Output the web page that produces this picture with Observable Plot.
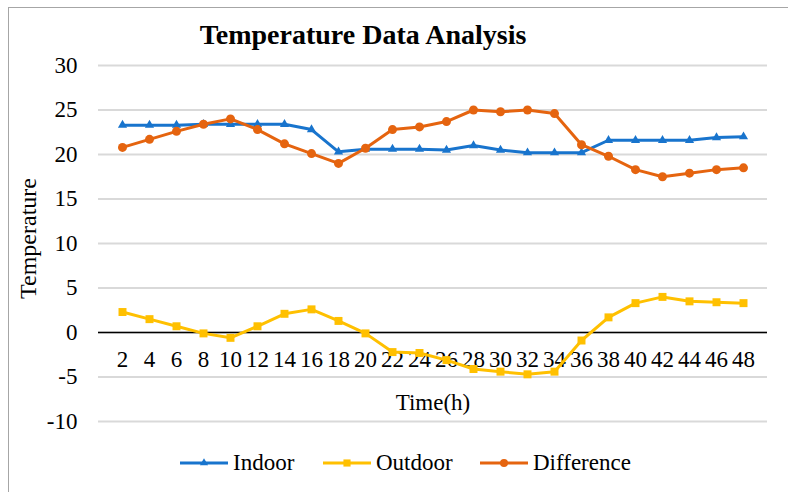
<!DOCTYPE html>
<html><head><meta charset="utf-8">
<script src="https://cdn.jsdelivr.net/npm/d3@7"></script>
<script src="https://cdn.jsdelivr.net/npm/@observablehq/plot@0.6"></script>
<style>
body{margin:0;background:#fff;overflow:hidden}
#wrap{position:relative;width:788px;height:492px;overflow:hidden;font-family:"Liberation Serif","Times New Roman",serif}
#border{position:absolute;left:8px;top:7px;width:900px;height:600px;border:1px solid #a6a6a6}
#chart{position:absolute;left:0;top:0}
#legend{position:absolute;top:448px;left:0;width:788px;height:30px}
.item{position:absolute;top:0;height:30px;display:flex;align-items:center;font-size:23px;color:#000}
.item svg{margin-right:5px}
</style></head><body>
<div id="wrap"><div id="border"></div><div id="chart"></div><div id="legend"></div></div>
<script>
const hours = [2,4,6,8,10,12,14,16,18,20,22,24,26,28,30,32,34,36,38,40,42,44,46,48];
const indoor = [23.3,23.3,23.3,23.4,23.4,23.4,23.4,22.8,20.3,20.6,20.6,20.6,20.5,21.0,20.5,20.2,20.2,20.2,21.6,21.6,21.6,21.6,21.9,22.0];
const outdoor = [2.3,1.5,0.7,-0.1,-0.6,0.7,2.1,2.6,1.3,-0.1,-2.2,-2.3,-3.1,-4.1,-4.4,-4.7,-4.4,-0.9,1.7,3.3,4.0,3.5,3.4,3.3];
const difference = [20.8,21.7,22.6,23.4,24.0,22.8,21.2,20.1,19.0,20.7,22.8,23.1,23.7,25.0,24.8,25.0,24.6,21.1,19.8,18.3,17.5,17.9,18.3,18.5];
const seriesNames = ["Indoor","Outdoor","Difference"];
const seriesColors = ["#1874CD","#FFC000","#E5640F"];
const seriesSymbols = ["triangle","square","circle"];
const seriesR = [3.4,4.5,4.5];
const yTicks = [-10,-5,0,5,10,15,20,25,30];
const titleText = "Temperature Data Analysis";
const xLabel = "Time(h)";
const yLabel = "Temperature";
const FONT = "Liberation Serif";

const seriesValues = [indoor, outdoor, difference];
const rows = [];
seriesNames.forEach((name, s) => hours.forEach((h, i) => rows.push({series: name, h, v: seriesValues[s][i]})));

const lineMarks = [];
seriesNames.forEach((name, s) => {
  const data = rows.filter(d => d.series === name);
  lineMarks.push(Plot.line(data, {x: "h", y: "v", stroke: seriesColors[s], strokeWidth: 3}));
  lineMarks.push(Plot.dot(data, {x: "h", y: "v", fill: seriesColors[s], stroke: "none", symbol: seriesSymbols[s], r: seriesR[s]}));
});

const chart = Plot.plot({
  width: 788, height: 492,
  marginLeft: 98, marginRight: 21, marginTop: 65, marginBottom: 71,
  style: {fontFamily: "'Liberation Serif', 'Times New Roman', serif", fontSize: "23px", color: "#000", background: "transparent", overflow: "visible"},
  x: {type: "point", domain: hours, padding: 0.5, axis: null},
  y: {domain: [-10, 30]},
  marks: [
    Plot.gridY(yTicks, {stroke: "#d9d9d9", strokeOpacity: 1, strokeWidth: 2}),
    Plot.axisY(yTicks, {tickSize: 0, tickPadding: 21, fontSize: 23, fontFamily: FONT, label: null, tickFormat: d => String(d)}),
    Plot.ruleY([0], {stroke: "#000", strokeWidth: 1.5}),
    Plot.text(hours, {x: d => d, y: () => 0, dy: 27, text: d => String(d), fontSize: 23, fontFamily: FONT, lineAnchor: "middle"}),
    ...lineMarks,
    Plot.text([titleText], {frameAnchor: "top", dy: -30, dx: -70, text: d => d, fontWeight: "bold", fontSize: 28, fontFamily: FONT, lineAnchor: "middle", textAnchor: "middle"}),
    Plot.text([yLabel], {frameAnchor: "left", dx: -70, dy: -5, text: d => d, rotate: -90, fontSize: 24, fontFamily: FONT, lineAnchor: "middle", textAnchor: "middle"}),
    Plot.text([xLabel], {frameAnchor: "bottom", dy: -19, text: d => d, fontSize: 23, fontFamily: FONT, lineAnchor: "middle", textAnchor: "middle"})
  ]
});
document.getElementById("chart").appendChild(chart);

// legend
const legendX = [180, 323, 480];
const legend = document.getElementById("legend");
seriesNames.forEach((name, s) => {
  const item = document.createElement("div");
  item.className = "item";
  item.style.left = legendX[s] + "px";
  const svg = d3.create("svg").attr("width", 48).attr("height", 30);
  svg.append("line").attr("x1", 0).attr("x2", 48).attr("y1", 15).attr("y2", 15)
    .attr("stroke", seriesColors[s]).attr("stroke-width", 3);
  const sym = {triangle: d3.symbolTriangle, square: d3.symbolSquare, circle: d3.symbolCircle}[seriesSymbols[s]];
  svg.append("path").attr("transform", "translate(24,15)")
    .attr("d", d3.symbol(sym, Math.PI * seriesR[s] * seriesR[s] * 0.8)())
    .attr("fill", seriesColors[s]);
  item.appendChild(svg.node());
  const span = document.createElement("span");
  span.textContent = name;
  item.appendChild(span);
  legend.appendChild(item);
});
</script>
</body></html>
